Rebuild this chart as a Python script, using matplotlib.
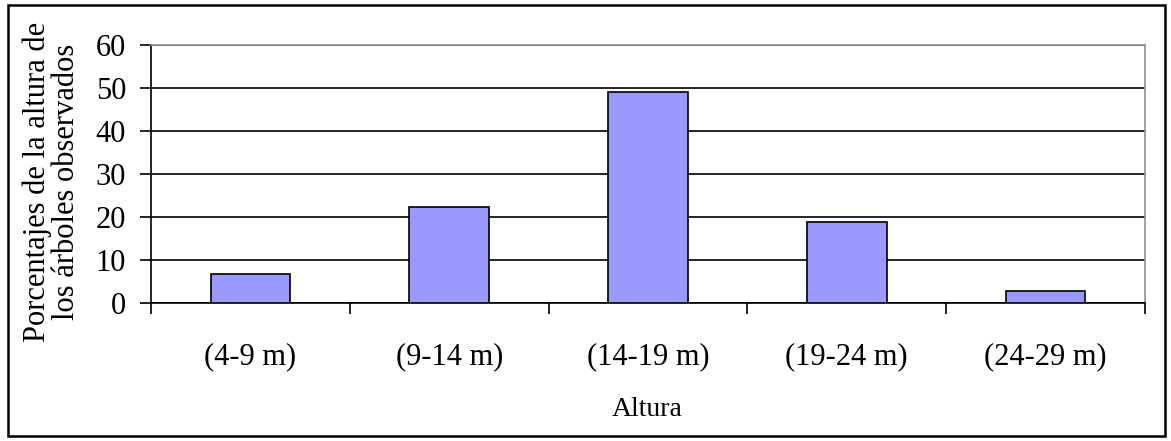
"""Bar chart of tree height distribution (Excel-style)."""

import matplotlib

matplotlib.use("Agg")

import matplotlib.pyplot as plt
import numpy as np
from matplotlib.patches import Rectangle

CATEGORIES = ["(4-9 m)", "(9-14 m)", "(14-19 m)", "(19-24 m)", "(24-29 m)"]
PERCENTAGES = [6.8, 22.3, 49.1, 18.9, 2.9]
Y_TICKS = [0, 10, 20, 30, 40, 50, 60]

X_LABEL = "Altura"
Y_LABEL = "Porcentajes de la altura de\nlos árboles observados"

BAR_COLOR = "#9999ff"

plt.rcParams["font.family"] = ["Liberation Serif", "DejaVu Serif"]

W, H = 1171, 441
fig = plt.figure(figsize=(W / 100, H / 100), dpi=100)
ax = fig.add_axes([151 / W, 1 - 303 / H, (1145 - 151) / W, (303 - 45) / H])

x = np.arange(len(CATEGORIES))
ax.bar(x, PERCENTAGES, width=0.4, color=BAR_COLOR, edgecolor="black", linewidth=1.2, zorder=3)

ax.set_xlim(-0.5, len(CATEGORIES) - 0.5)
ax.set_ylim(0, 60)
ax.set_yticks(Y_TICKS)
ax.set_yticklabels([str(v) for v in Y_TICKS], fontsize=22)
ax.yaxis.grid(True, color="black", linewidth=1.2, zorder=0)

# category labels on major ticks, tick marks between categories
ax.set_xticks(x)
ax.set_xticklabels(CATEGORIES, fontsize=22)
ax.set_xticks(np.arange(-0.5, len(CATEGORIES)), minor=True)
ax.tick_params(axis="x", which="major", length=0, pad=28)
ax.tick_params(axis="x", which="minor", length=8, width=1.2, direction="out", color="black")
ax.tick_params(axis="y", length=8, width=1.2, direction="out", pad=10, color="black")

for side in ("left", "bottom"):
    ax.spines[side].set_color("black")
    ax.spines[side].set_linewidth(1.2)
for side in ("top", "right"):
    ax.spines[side].set_color("#909090")
    ax.spines[side].set_linewidth(1.2)

fig.text(647 / W, 1 - 410 / H, X_LABEL, ha="center", va="center", fontsize=20)
fig.text(52 / W, 1 - 182 / H, Y_LABEL, ha="center", va="center", rotation=90,
         multialignment="center", linespacing=1.0, fontsize=22)

# outer chart border
fig.patches.append(Rectangle((8 / W, 1 - 436 / H), (1165 - 8) / W, (436 - 5) / H,
                             transform=fig.transFigure, fill=False,
                             edgecolor="black", linewidth=1.8))

fig.savefig("out.png", dpi=100)
